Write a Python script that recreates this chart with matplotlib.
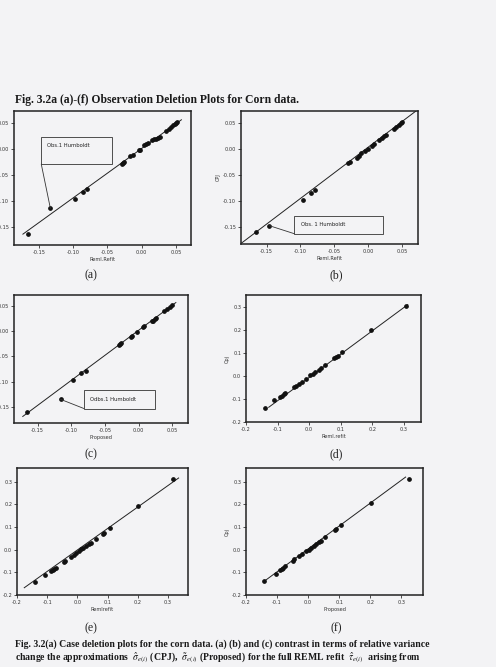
import matplotlib
matplotlib.use("Agg")
import matplotlib.pyplot as plt
from matplotlib.patches import Rectangle

# ---- data ----
# (a) Reml.Refit vs (cut-off y)
a_x = [-0.165, -0.133, -0.097, -0.085, -0.079, -0.029, -0.027, -0.025, -0.017, -0.013,
       -0.004, -0.002, 0.004, 0.007, 0.010, 0.015, 0.018, 0.021, 0.024, 0.027,
       0.036, 0.040, 0.043, 0.046, 0.048, 0.050, 0.052]
a_y = [-0.164, -0.114, -0.096, -0.083, -0.077, -0.029, -0.027, -0.025, -0.013, -0.011,
       -0.002, -0.001, 0.008, 0.010, 0.012, 0.017, 0.019, 0.020, 0.021, 0.023,
       0.036, 0.040, 0.043, 0.046, 0.048, 0.050, 0.052]
a_line_x = [-0.173, 0.058]
a_line_y = [-0.164, 0.057]

# (b) Reml.Refit vs CPJ
b_x = [-0.166, -0.146, -0.096, -0.084, -0.078, -0.029, -0.027, -0.017, -0.013, -0.010,
       -0.004, 0.000, 0.006, 0.009, 0.016, 0.020, 0.024, 0.027, 0.038, 0.042, 0.046,
       0.049, 0.051]
b_y = [-0.160, -0.147, -0.098, -0.085, -0.079, -0.028, -0.026, -0.017, -0.013, -0.009,
       -0.004, 0.000, 0.006, 0.009, 0.016, 0.020, 0.024, 0.027, 0.038, 0.042, 0.046,
       0.049, 0.051]
b_line_x = [-0.187, 0.071]
b_line_y = [-0.180, 0.072]

# (c) Proposed vs (cut-off y)
c_x = [-0.166, -0.116, -0.097, -0.085, -0.078, -0.030, -0.028, -0.026, -0.012, -0.010,
       -0.003, 0.006, 0.008, 0.019, 0.021, 0.024, 0.026, 0.038, 0.042, 0.046, 0.050]
c_y = [-0.160, -0.135, -0.097, -0.083, -0.078, -0.027, -0.026, -0.024, -0.011, -0.009,
       -0.002, 0.008, 0.010, 0.020, 0.021, 0.024, 0.026, 0.040, 0.044, 0.049, 0.052]
c_line_x = [-0.172, 0.055]
c_line_y = [-0.169, 0.057]

# (d) Reml.refit vs Cpj
d_x = [-0.141, -0.112, -0.091, -0.085, -0.080, -0.075, -0.049, -0.043, -0.033, -0.022,
       -0.009, 0.004, 0.012, 0.020, 0.030, 0.038, 0.052, 0.080, 0.086, 0.091, 0.105,
       0.197, 0.309]
d_y = [-0.137, -0.104, -0.090, -0.085, -0.080, -0.076, -0.047, -0.042, -0.033, -0.026,
       -0.011, 0.004, 0.010, 0.017, 0.027, 0.034, 0.049, 0.077, 0.082, 0.086, 0.103,
       0.200, 0.303]
d_line_x = [-0.128, 0.313]
d_line_y = [-0.136, 0.310]

# (e) Remlrefit vs Proposed
e_x = [-0.140, -0.107, -0.087, -0.082, -0.076, -0.070, -0.046, -0.040, -0.021, -0.012,
       -0.004, 0.005, 0.012, 0.020, 0.029, 0.037, 0.045, 0.062, 0.085, 0.089, 0.107,
       0.200, 0.315]
e_y = [-0.143, -0.110, -0.094, -0.088, -0.084, -0.081, -0.056, -0.050, -0.032, -0.022,
       -0.014, -0.006, 0.001, 0.008, 0.016, 0.023, 0.030, 0.045, 0.068, 0.072, 0.094,
       0.193, 0.312]
e_line_x = [-0.176, 0.335]
e_line_y = [-0.168, 0.316]

# (f) Proposed vs Cpj
f_x = [-0.141, -0.105, -0.090, -0.085, -0.080, -0.076, -0.050, -0.045, -0.028, -0.020,
       -0.006, 0.002, 0.010, 0.018, 0.026, 0.034, 0.042, 0.053, 0.085, 0.090, 0.106,
       0.203, 0.324]
f_y = [-0.139, -0.106, -0.091, -0.086, -0.080, -0.074, -0.048, -0.043, -0.026, -0.018,
       -0.007, 0.000, 0.007, 0.016, 0.025, 0.032, 0.039, 0.054, 0.087, 0.091, 0.107,
       0.206, 0.310]
f_line_x = [-0.141, 0.314]
f_line_y = [-0.139, 0.320]

small_ticks = [-0.15, -0.10, -0.05, 0.00, 0.05]
big_ticks = [-0.2, -0.1, 0.0, 0.1, 0.2, 0.3]

title = "Fig. 3.2a (a)-(f) Observation Deletion Plots for Corn data."
caption1 = ("Fig. 3.2(a) Case deletion plots for the corn data. (a) (b) and (c) contrast "
            "in terms of relative variance")
caption2 = (r"change the approximations  $\hat{\sigma}_{e(i)}$ (CPJ),  $\tilde{\sigma}_{e(i)}$ "
            r"(Proposed) for the full REML refit  $\hat{\tau}_{e(i)}$  arising from")

BG = "#f3f3f5"
W, H = 496, 667

plt.rcParams["mathtext.fontset"] = "stix"
fig = plt.figure(figsize=(4.96, 6.67), dpi=100, facecolor=BG)


def px_axes(left, top, right, bottom):
    ax = fig.add_axes([left / W, 1 - bottom / H, (right - left) / W, (bottom - top) / H])
    ax.set_facecolor(BG)
    for s in ax.spines.values():
        s.set_linewidth(1.1)
        s.set_color("#222222")
    ax.tick_params(labelsize=3.6, length=2, width=0.6, pad=1.5, colors="#333333")
    return ax


def panel(ax, x, y, lx, ly, xlim, ylim, xt, yt, fmt, xlabel="", ylabel=""):
    ax.plot(lx, ly, color="#222222", lw=0.7)
    ax.plot(x, y, "o", color="#111111", ms=2.4, mec="#111111")
    ax.set_xlim(xlim)
    ax.set_ylim(ylim)
    ax.set_xticks(xt)
    ax.set_yticks(yt)
    ax.set_xticklabels([fmt.format(v) for v in xt])
    ax.set_yticklabels([fmt.format(v) for v in yt])
    ax.set_xlabel(xlabel, fontsize=3.6, labelpad=1.5, color="#333333")
    ax.set_ylabel(ylabel, fontsize=3.6, labelpad=1.5, color="#333333")


def callout(ax, txt, px, py, box, corner):
    l, b, r, t = box
    ax.add_patch(Rectangle((l, b), r - l, t - b, transform=ax.transAxes,
                           fill=False, lw=0.6, ec="#333333"))
    ax.text(l + 0.035, t - 0.05, txt, transform=ax.transAxes, fontsize=3.8,
            va="top", ha="left", color="#222222")
    ax.annotate("", xy=(px, py), xycoords="data", xytext=corner,
                textcoords="axes fraction",
                arrowprops=dict(arrowstyle="-", lw=0.6, color="#333333",
                                shrinkA=0, shrinkB=0))


# (a)
ax = px_axes(14, 111, 191, 245)
panel(ax, a_x, a_y, a_line_x, a_line_y, (-0.186, 0.072), (-0.185, 0.074),
      small_ticks, small_ticks, "{:.2f}", xlabel="Reml.Refit")
callout(ax, "Obs.1 Humboldt", a_x[1], a_y[1], (0.154, 0.604, 0.552, 0.808), (0.154, 0.604))

# (b)
ax = px_axes(241, 111, 418, 244)
panel(ax, b_x, b_y, b_line_x, b_line_y, (-0.188, 0.074), (-0.182, 0.072),
      small_ticks, small_ticks, "{:.2f}", xlabel="Reml.Refit", ylabel="CPJ")
callout(ax, "Obs. 1 Humboldt", b_x[1], b_y[1], (0.302, 0.077, 0.80, 0.213), (0.302, 0.077))

# (c)
ax = px_axes(14, 295, 188, 423)
panel(ax, c_x, c_y, c_line_x, c_line_y, (-0.185, 0.073), (-0.182, 0.072),
      small_ticks, small_ticks, "{:.2f}", xlabel="Proposed")
callout(ax, "Odbs.1 Humboldt", c_x[1], c_y[1], (0.402, 0.113, 0.812, 0.256), (0.402, 0.113))

# (d)
ax = px_axes(246, 295, 421, 422)
panel(ax, d_x, d_y, d_line_x, d_line_y, (-0.2, 0.355), (-0.2, 0.352),
      big_ticks, big_ticks, "{:.1f}", xlabel="Reml.refit", ylabel="Cpj")

# (e)
ax = px_axes(17, 468, 188, 595)
panel(ax, e_x, e_y, e_line_x, e_line_y, (-0.2, 0.366), (-0.2, 0.36),
      big_ticks, big_ticks, "{:.1f}", xlabel="Remlrefit", ylabel="Proposed")

# (f)
ax = px_axes(246, 468, 423, 595)
panel(ax, f_x, f_y, f_line_x, f_line_y, (-0.2, 0.37), (-0.2, 0.36),
      big_ticks, big_ticks, "{:.1f}", xlabel="Proposed", ylabel="Cpj")

serif = "Liberation Serif"
fig.text(15 / W, 1 - 100 / H, title, fontsize=8.4, fontweight="bold", family=serif,
         va="center", ha="left", color="#1a1a1a")
for lab, x, y in [("(a)", 91, 275), ("(b)", 336, 275), ("(c)", 91, 454),
                  ("(d)", 336, 454), ("(e)", 91, 628), ("(f)", 336, 628)]:
    fig.text(x / W, 1 - y / H, lab, fontsize=8.5, family=serif, ha="center", va="center",
             color="#222222")
fig.text(15 / W, 1 - 644 / H, caption1, fontsize=7.0, fontweight="bold", family=serif,
         va="center", ha="left", color="#1a1a1a")
fig.text(15 / W, 1 - 658 / H, caption2, fontsize=7.0, fontweight="bold", family=serif,
         va="center", ha="left", color="#1a1a1a")

fig.savefig("out.png", dpi=100, facecolor=BG)
